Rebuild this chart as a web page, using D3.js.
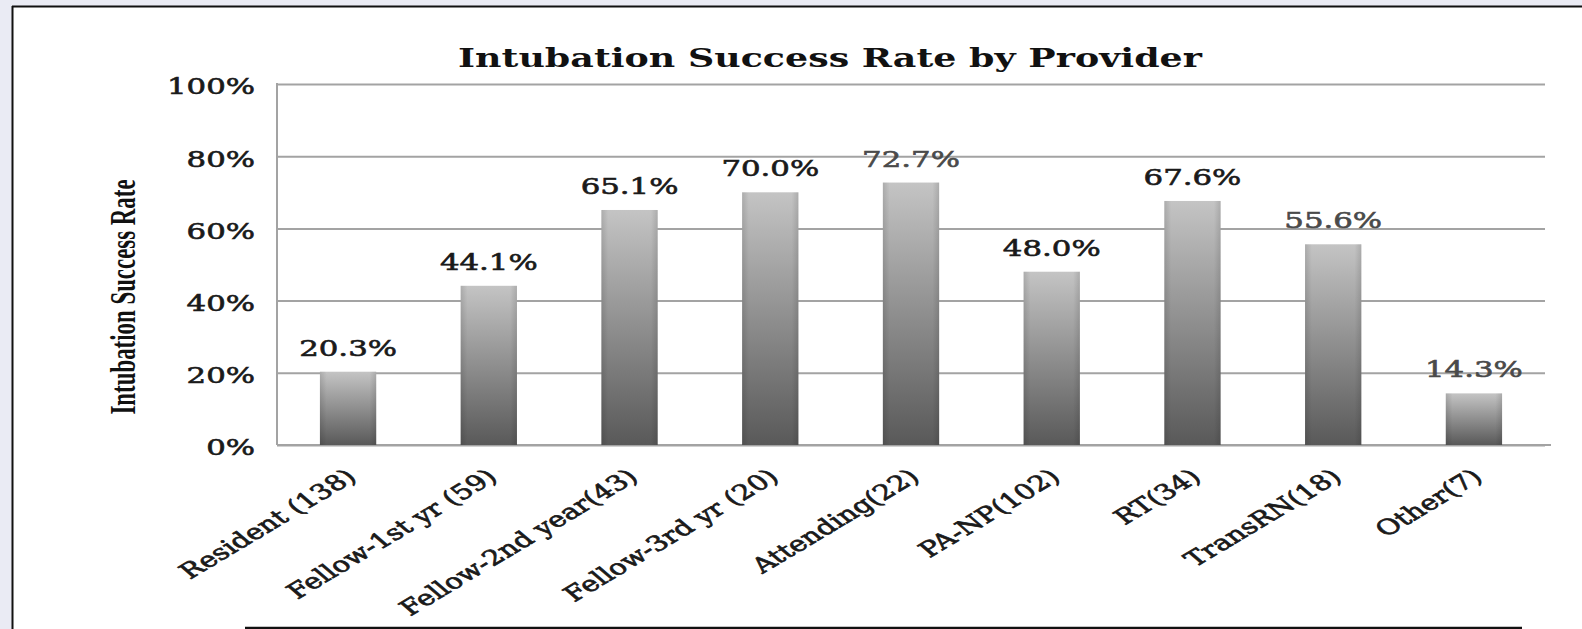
<!DOCTYPE html>
<html>
<head>
<meta charset="utf-8">
<script src="https://cdn.jsdelivr.net/npm/d3@7"></script>
<style>
  html, body { margin: 0; padding: 0; background: #eaebf4; }
  svg { display: block; }
  .tick line { stroke: #a3a3a3; stroke-width: 2; }
  .domain { display: none; }
</style>
</head>
<body>
<div id="chart"></div>
<script>
"use strict";

var categories = ["Resident (138)", "Fellow-1st yr (59)", "Fellow-2nd year(43)", "Fellow-3rd yr (20)",
                  "Attending(22)", "PA-NP(102)", "RT(34)", "TransRN(18)", "Other(7)"];
var successRate = [20.3, 44.1, 65.1, 70.0, 72.7, 48.0, 67.6, 55.6, 14.3];
var yTicks = [0, 20, 40, 60, 80, 100];
var chartTitle = "Intubation Success Rate by Provider";
var yTitle = "Intubation Success Rate";

// labels that came out lighter in the original picture
var lightLabels = ["Attending(22)", "TransRN(18)", "Other(7)"];

var W = 1582, H = 629,
    stretch = 1.4;   // original picture is stretched sideways, text too

var plot = {left: 277, right: 1545, top: 84, bottom: 445};

var svg = d3.select("#chart").append("svg")
  .attr("width", W)
  .attr("height", H);

// frame
svg.append("rect").attr("x", 13).attr("y", 7).attr("width", W).attr("height", H).attr("fill", "#fff");
svg.append("line").attr("x1", 12.5).attr("x2", 12.5).attr("y1", 6).attr("y2", H)
  .attr("stroke", "#111").attr("stroke-width", 2);
svg.append("line").attr("x1", 12).attr("x2", W).attr("y1", 6.5).attr("y2", 6.5)
  .attr("stroke", "#111").attr("stroke-width", 2);
svg.append("line").attr("x1", 245).attr("x2", 1522).attr("y1", 628).attr("y2", 628)
  .attr("stroke", "#111").attr("stroke-width", 2.5);

var defs = svg.append("defs");
var vg = defs.append("linearGradient").attr("id", "barFill")
  .attr("x1", 0).attr("y1", 0).attr("x2", 0).attr("y2", 1);
vg.append("stop").attr("offset", "0%").attr("stop-color", "#c4c4c4");
vg.append("stop").attr("offset", "100%").attr("stop-color", "#595959");
var hg = defs.append("linearGradient").attr("id", "barEdge")
  .attr("x1", 0).attr("y1", 0).attr("x2", 1).attr("y2", 0);
hg.append("stop").attr("offset", "0%").attr("stop-color", "#000").attr("stop-opacity", 0.12);
hg.append("stop").attr("offset", "12%").attr("stop-color", "#000").attr("stop-opacity", 0);
hg.append("stop").attr("offset", "88%").attr("stop-color", "#000").attr("stop-opacity", 0);
hg.append("stop").attr("offset", "100%").attr("stop-color", "#000").attr("stop-opacity", 0.12);

var x = d3.scaleBand().domain(categories).range([plot.left, plot.right])
  .paddingInner(0.6).paddingOuter(0.305);
var y = d3.scaleLinear().domain([0, 100]).range([plot.bottom, plot.top]);

var textFont = "'DejaVu Serif', serif";

// y axis with gridlines
var yAxis = d3.axisLeft(y).tickValues(yTicks)
  .tickSize(-(plot.right - plot.left))
  .tickFormat(function(d) { return d + "%"; });

var gy = svg.append("g").attr("transform", "translate(" + plot.left + ",0)").call(yAxis);
gy.selectAll(".tick text")
  .attr("x", 0)
  .attr("dy", "0.45em")
  .attr("text-anchor", "end")
  .attr("transform", "translate(-22,0) scale(" + stretch + ",1)")
  .style("font-family", textFont)
  .style("font-size", "22px")
  .attr("fill", "#1a1a1a")
  .attr("stroke", "#1a1a1a").attr("stroke-width", 0.6);

// left axis line and baseline
svg.append("line").attr("x1", plot.left).attr("x2", plot.left)
  .attr("y1", plot.top - 1).attr("y2", plot.bottom)
  .attr("stroke", "#a3a3a3").attr("stroke-width", 2);
svg.append("line").attr("x1", plot.left).attr("x2", 1551)
  .attr("y1", plot.bottom).attr("y2", plot.bottom)
  .attr("stroke", "#a3a3a3").attr("stroke-width", 2);

// bars
var bars = svg.append("g").selectAll("g.bar")
  .data(categories)
  .enter().append("g").attr("class", "bar");

bars.append("rect")
  .attr("x", function(d) { return x(d); })
  .attr("y", function(d, i) { return y(successRate[i]); })
  .attr("width", x.bandwidth())
  .attr("height", function(d, i) { return y(0) - y(successRate[i]); })
  .attr("fill", "url(#barFill)");
bars.append("rect")
  .attr("x", function(d) { return x(d); })
  .attr("y", function(d, i) { return y(successRate[i]); })
  .attr("width", x.bandwidth())
  .attr("height", function(d, i) { return y(0) - y(successRate[i]); })
  .attr("fill", "url(#barEdge)");

// value labels
svg.append("g").selectAll("text")
  .data(categories)
  .enter().append("text")
  .attr("text-anchor", "middle")
  .attr("transform", function(d, i) {
    return "translate(" + (x(d) + x.bandwidth() / 2) + "," + (y(successRate[i]) - 16) + ") scale(" + stretch + ",1)";
  })
  .style("font-family", textFont)
  .style("font-size", "22px")
  .attr("fill", function(d) { return lightLabels.indexOf(d) >= 0 ? "#4a4a4a" : "#1a1a1a"; })
  .attr("stroke", function(d) { return lightLabels.indexOf(d) >= 0 ? "#4a4a4a" : "#1a1a1a"; })
  .attr("stroke-width", 0.6)
  .text(function(d, i) { return d3.format(".1f")(successRate[i]) + "%"; });

// category labels, rotated
svg.append("g").selectAll("text")
  .data(categories)
  .enter().append("text")
  .attr("text-anchor", "end")
  .attr("transform", function(d) {
    return "translate(" + (x(d) + x.bandwidth() / 2 + 10) + ",479) scale(" + stretch + ",1) rotate(-40)";
  })
  .style("font-family", textFont)
  .style("font-size", "21px")
  .attr("fill", "#1a1a1a")
  .attr("stroke", "#1a1a1a").attr("stroke-width", 0.7)
  .text(function(d) { return d; });

// title
svg.append("text")
  .attr("text-anchor", "middle")
  .attr("transform", "translate(830,67) scale(" + stretch + ",1)")
  .style("font-family", textFont)
  .style("font-size", "26px")
  .style("font-weight", "bold")
  .attr("fill", "#111")
  .text(chartTitle);

// y axis title, condensed serif
svg.append("text")
  .attr("text-anchor", "middle")
  .attr("transform", "translate(135,297) rotate(-90) scale(0.88," + stretch + ")")
  .style("font-family", "'Liberation Serif', serif")
  .style("font-size", "26px")
  .style("font-weight", "bold")
  .attr("fill", "#111")
  .text(yTitle);
</script>
</body>
</html>
